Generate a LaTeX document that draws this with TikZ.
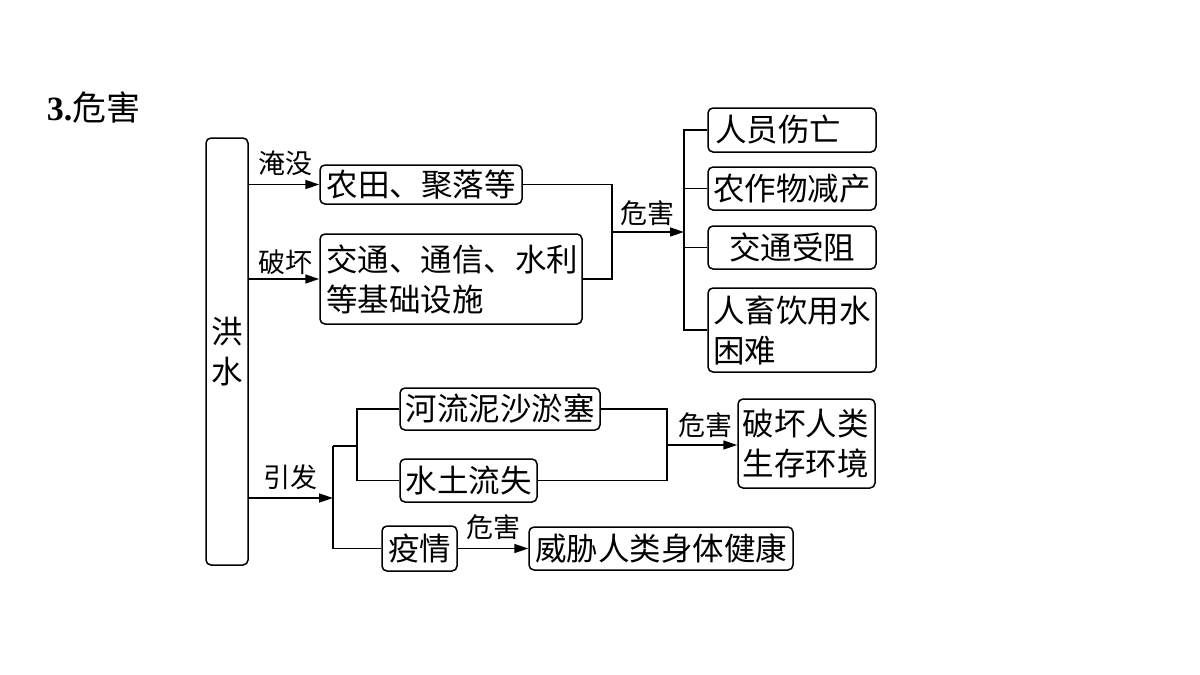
\documentclass[tikz,border=0pt]{standalone}
\usepackage{fontspec}
\setmainfont{Noto Sans CJK SC}
\newfontfamily\serifnum{Liberation Serif}
\usetikzlibrary{arrows.meta}
\begin{document}
\begin{tikzpicture}[x=1pt,y=-1pt,
  line width=1.5pt,
  box/.style={draw, rounded corners=5pt, inner sep=0pt, font=\fontsize{31.5}{40}\selectfont},
  lbl/.style={inner sep=0pt, font=\fontsize{27}{30}\selectfont},
  arr/.style={-{Triangle[length=14pt,width=9pt]}}]
\useasboundingbox (0,0) rectangle (1200,675);
% title
\node[anchor=west, inner sep=0pt] (title) at (46,108) {\fontsize{34}{38}\selectfont\serifnum\bfseries 3.\rmfamily\mdseries 危害};
% main box
\node[box, minimum width=42pt, minimum height=427pt, align=center] (hs) at (227,351.5) {洪\\水};
% upper left boxes
\node[box, minimum width=202pt, minimum height=39pt] (b1) at (421,184.5) {农田、聚落等};
\node[box, minimum width=262pt, minimum height=90pt, text width=250pt, align=left] (b2) at (451,279) {交通、通信、水利\\等基础设施};
% right boxes
\node[box, minimum width=168pt, minimum height=44pt, text width=154pt, align=left] (r1) at (792,130) {人员伤亡};
\node[box, minimum width=168pt, minimum height=43pt] (r2) at (792,188.5) {农作物减产};
\node[box, minimum width=168pt, minimum height=43pt] (r3) at (792,247.5) {交通受阻};
\node[box, minimum width=168pt, minimum height=84pt, text width=158pt, align=left] (r4) at (792,330) {人畜饮用水\\困难};
% lower boxes
\node[box, minimum width=200pt, minimum height=42pt] (d1) at (500,409) {河流泥沙淤塞};
\node[box, minimum width=137pt, minimum height=43pt] (d2) at (468.5,480.5) {水土流失};
\node[box, minimum width=137pt, minimum height=89pt, text width=128pt, align=left] (f1) at (806.5,443.5) {破坏人类\\生存环境};
\node[box, minimum width=75pt, minimum height=45pt] (e1) at (419.5,548.5) {疫情};
\node[box, minimum width=264pt, minimum height=43pt] (e2) at (661,548.5) {威胁人类身体健康};
% labels
\node[lbl] (l1) at (285,163) {淹没};
\node[lbl] (l2) at (285,262) {破坏};
\node[lbl] (l3) at (647,213) {危害};
\node[lbl] (l4) at (290,477) {引发};
\node[lbl] (l5) at (705,425) {危害};
\node[lbl] (l6) at (493,527) {危害};
% coordinates
\coordinate (j1) at (612,232);
\coordinate (j2) at (684,232);
\coordinate (k1) at (333,498);
\coordinate (k2) at (333,446);
\coordinate (k3) at (357,446);
\coordinate (m1) at (667,445);
% connectors upper
\draw[arr] (hs.east |- b1.west) -- (b1.west);
\draw[arr] (hs.east |- b2.west) -- (b2.west);
\draw (b1.east) -| (j1) |- (b2.east);
\draw[arr] (j1) -- (j2);
\draw (r1.west) -| (j2) |- (r4.west);
\draw (r2.west) -- (r2.west -| j2);
\draw (r3.west) -- (r3.west -| j2);
% connectors lower
\draw[arr] (hs.east |- k1) -- (k1);
\draw (k2) |- (e1.west);
\draw (k2) -- (k3);
\draw (d1.west) -| (k3) |- (d2.west);
\draw (d1.east) -| (m1) |- (d2.east);
\draw[arr] (m1) -- (m1 -| f1.west);
\draw[arr] (e1.east) -- (e2.west);
\end{tikzpicture}
\end{document}
